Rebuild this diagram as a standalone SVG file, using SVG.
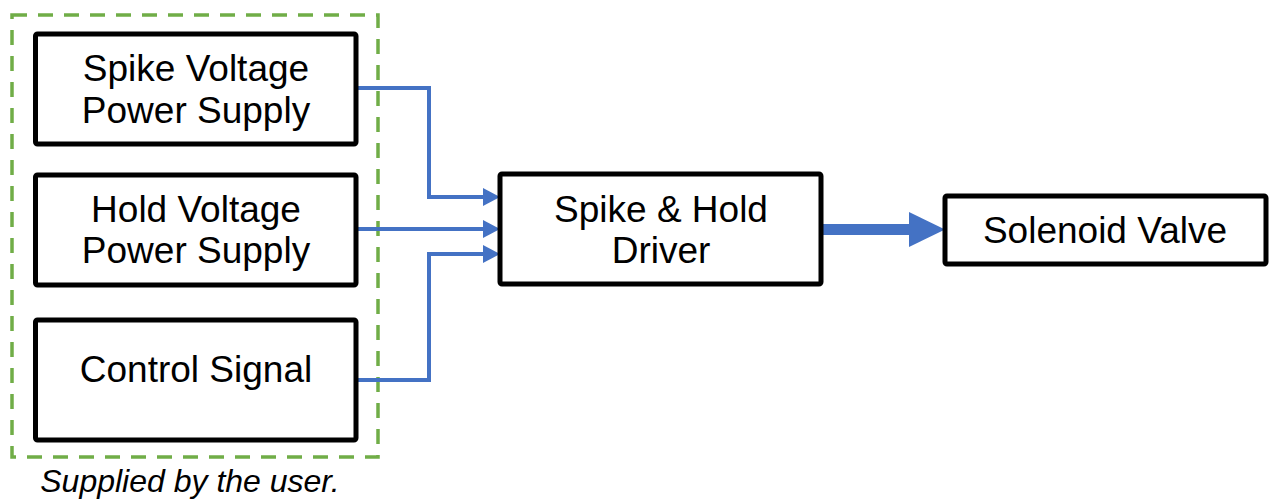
<svg xmlns="http://www.w3.org/2000/svg" width="1270" height="500" viewBox="0 0 1270 500">
<style>
.box{fill:#fff;stroke:#000;stroke-width:5;}
.lbl{font-family:"Liberation Sans",Arial,sans-serif;font-size:37px;fill:#000;text-anchor:middle;}
.wire{fill:none;stroke:#4472C4;stroke-width:4;}
.group{fill:none;stroke:#70AD47;stroke-width:3.5;stroke-dasharray:15 11;}
</style>
<defs>
<marker id="ah" markerWidth="17" markerHeight="18" refX="3" refY="9" orient="auto" markerUnits="userSpaceOnUse">
<path d="M0,0 L17,9 L0,18 Z" fill="#4472C4"/>
</marker>
</defs>
<g id="group-user">
<rect class="group" x="12" y="15" width="366" height="442"/>
<text x="190" y="492" font-family="Liberation Sans, Arial, sans-serif" font-size="32" font-style="italic" text-anchor="middle">Supplied by the user.</text>
</g>
<g id="connectors">
<polyline class="wire" points="356,88 429,88 429,197 486,197" marker-end="url(#ah)"/>
<line class="wire" x1="356" y1="229" x2="486" y2="229" marker-end="url(#ah)"/>
<polyline class="wire" points="356,380 429,380 429,254 486,254" marker-end="url(#ah)"/>
<line x1="822" y1="229.5" x2="910" y2="229.5" stroke="#4472C4" stroke-width="11"/>
<path d="M909,212 L945,229.5 L909,247 Z" fill="#4472C4"/>
</g>
<g id="spike-supply">
<rect class="box" x="35.5" y="34" width="320.5" height="110" rx="2"/>
<text class="lbl" x="196" y="81">Spike Voltage</text>
<text class="lbl" x="196" y="122.5">Power Supply</text>
</g>
<g id="hold-supply">
<rect class="box" x="35.5" y="175" width="320.5" height="110" rx="2"/>
<text class="lbl" x="196" y="222">Hold Voltage</text>
<text class="lbl" x="196" y="263">Power Supply</text>
</g>
<g id="control-signal">
<rect class="box" x="35.5" y="320" width="320.5" height="120" rx="2"/>
<text class="lbl" x="196" y="382">Control Signal</text>
</g>
<g id="driver">
<rect class="box" x="500" y="174" width="321" height="110" rx="2"/>
<text class="lbl" x="661" y="222">Spike &amp; Hold</text>
<text class="lbl" x="661" y="263">Driver</text>
</g>
<g id="solenoid">
<rect class="box" x="945" y="196" width="321" height="68" rx="2"/>
<text class="lbl" x="1105" y="243">Solenoid Valve</text>
</g>
</svg>
